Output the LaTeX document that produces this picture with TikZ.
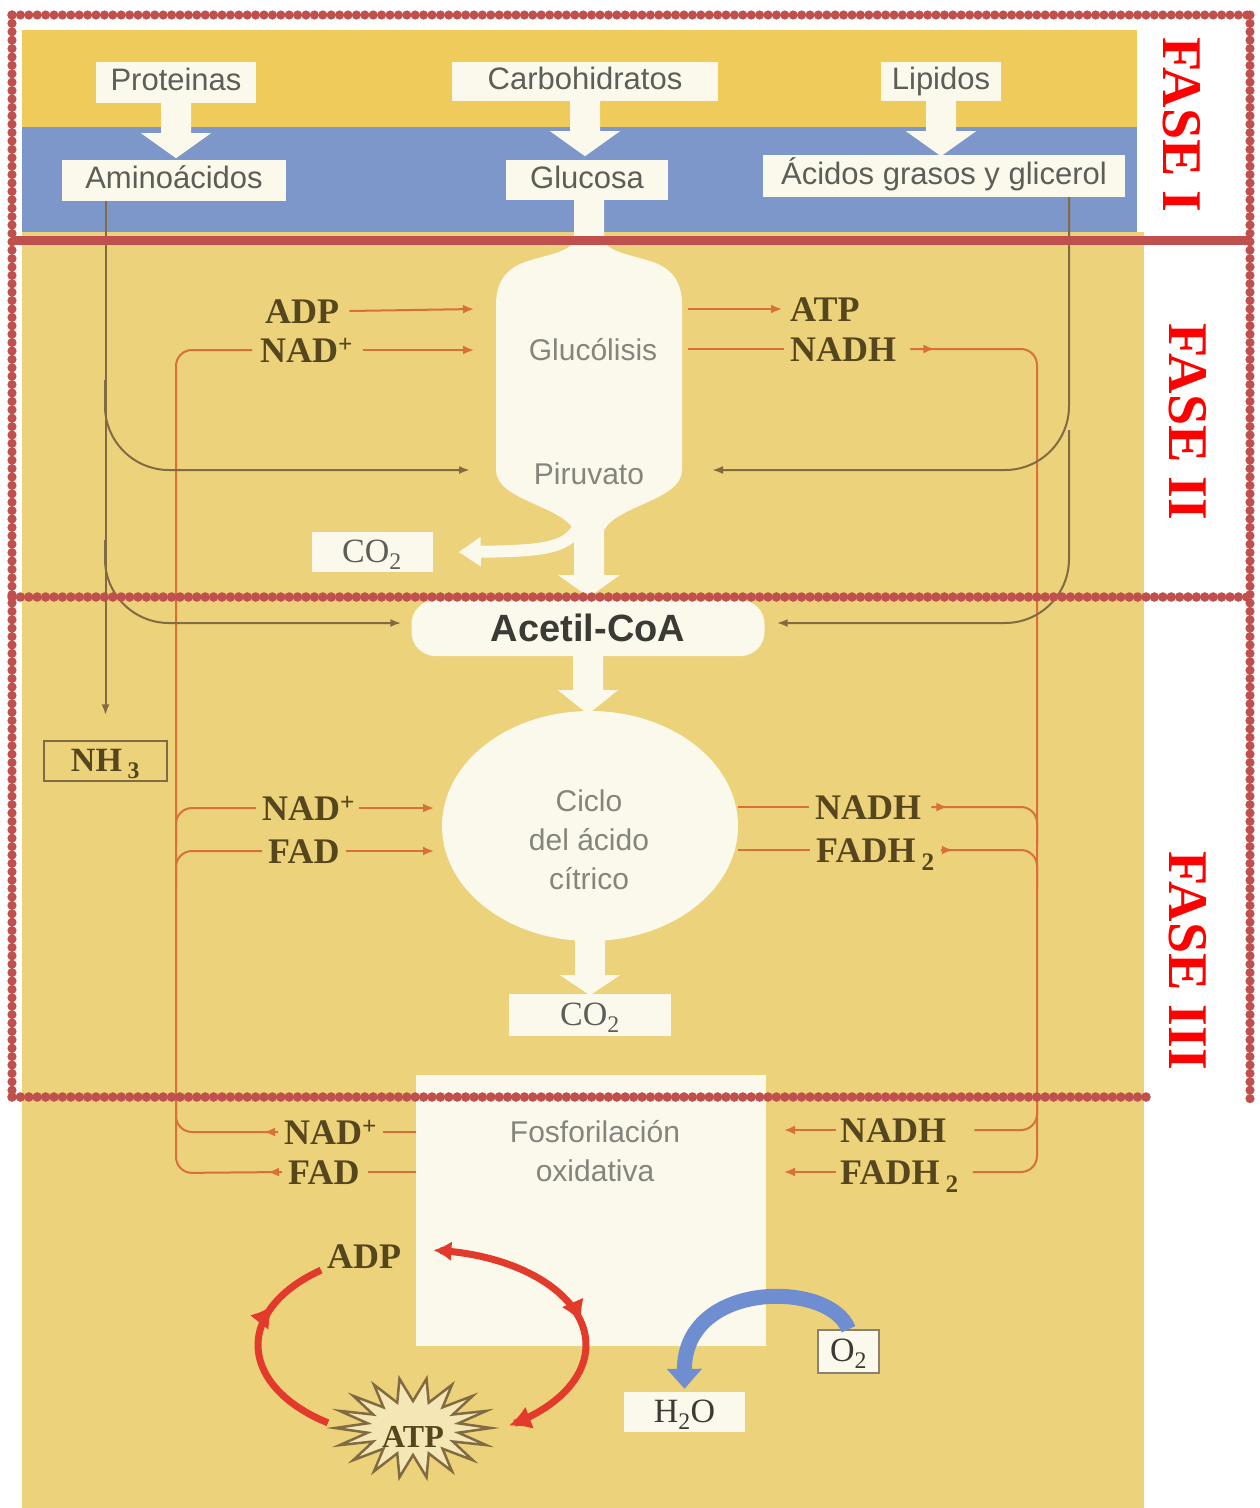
\documentclass[tikz,border=0pt]{standalone}
\usepackage{fontspec}
\setmainfont{Liberation Serif}
\setsansfont{Liberation Sans}
\usetikzlibrary{arrows.meta,decorations.markings,shapes.geometric,calc}
\definecolor{ylw}{HTML}{ECD27A}
\definecolor{ylwtop}{HTML}{EFCB5C}
\definecolor{blu}{HTML}{7D97CA}
\definecolor{wht}{HTML}{FBF9EC}
\definecolor{frm}{HTML}{C0504D}
\definecolor{org}{HTML}{D8703A}
\definecolor{brn}{HTML}{806B42}
\definecolor{olv}{HTML}{55461E}
\definecolor{gtx}{HTML}{5E5E58}
\definecolor{gtl}{HTML}{85857E}
\definecolor{ringred}{HTML}{E23B2B}
\definecolor{oblue}{HTML}{6F8ED2}
\definecolor{dtx}{HTML}{3C3A34}
\tikzset{
 lbl/.style={font=\bfseries\fontsize{36}{40}\selectfont, text=olv, inner sep=0pt, text height=24pt, text depth=0pt, anchor=west},
 sbox/.style={fill=wht, inner sep=0pt, font=\sffamily\fontsize{31}{36}\selectfont, text=gtx, text height=22pt, text depth=6pt},
 ptxt/.style={font=\sffamily\fontsize{30}{39}\selectfont, text=gtl, align=center, inner sep=0pt},
 wshape/.style={fill=wht, draw=none},
 frmdotc/.style={fill=frm},
 oline/.style={draw=org, line width=2pt},
 oarr/.style={oline, -{Latex[length=11pt,width=9pt]}},
 marr/.style={postaction={decorate}, decoration={markings, mark=at position #1 with {\arrow{Latex[length=11pt,width=9pt]}}}},
 bline/.style={draw=brn, line width=2pt},
 barr/.style={bline, -{Latex[length=11pt,width=8pt]}},
 ring/.style={draw=ringred, line width=7pt},
 fase/.style={font=\bfseries\fontsize{56}{60}\selectfont, text=red, rotate=-90, inner sep=0pt},
 sbx/.style={fill=wht, inner sep=0pt, font=\fontsize{34}{38}\selectfont, text=dtx, text height=23pt, text depth=3pt},
}
\begin{document}
\begin{tikzpicture}[x=1pt,y=-1pt]
\useasboundingbox (0,0) rectangle (1260,1508);
\fill[white] (0,0) rectangle (1260,1508);
% backgrounds
\fill[ylwtop] (22,30) rectangle (1137,127);
\fill[blu] (22,127) rectangle (1137,232);
\fill[ylw] (22,232) rectangle (1144,1508);

% top boxes
\node[sbox, minimum width=160, minimum height=41] (prot) at (176,82.5) {Proteinas};
\node[sbox, minimum width=266, minimum height=39] (carb) at (585,81.5) {Carbohidratos};
\node[sbox, minimum width=120, minimum height=39] (lip) at (941,81.5) {Lipidos};

% fat white arrows
\foreach \n in {prot,carb,lip}{
  \fill[wshape] (\n.south) ++(-15,0) -- ++(0,30) -- ++(-20,0) -- ++(35,25) -- ++(35,-25) -- ++(-20,0) -- ++(0,-30) -- cycle;
}

% glycolysis flask
\fill[wshape] (574,200) -- (574,238) .. controls (574,252) and (545,255) .. (525,262)
  .. controls (503,270) and (496,285) .. (496,305) -- (496,470)
  .. controls (496,500) and (560,505) .. (574,530) -- (574,575) -- (558,575) -- (589,597) -- (620,575) -- (604,575) -- (604,530)
  .. controls (618,505) and (682,500) .. (682,470) -- (682,305)
  .. controls (682,285) and (675,270) .. (653,262) .. controls (633,255) and (604,252) .. (604,238) -- (604,200) -- cycle;

\node[sbox, minimum width=224, minimum height=41] (amino) at (174,180.5) {Aminoácidos};
\node[sbox, minimum width=162, minimum height=40] (gluc) at (587,180) {Glucosa};
\node[sbox, minimum width=362, minimum height=42] (acid) at (944,176) {Ácidos grasos y glicerol};

\node[ptxt] (glyt) at (593,350) {Glucólisis};
\node[ptxt] (piru) at (589,474) {Piruvato};

% CO2 box and arrow
\node[sbx, text=gtx, minimum width=121, minimum height=40] (co2a) at (372,552) {CO\textsubscript{2}};
\draw[wht, line width=12pt, -{Triangle[length=22pt,width=28pt]}] (580,522) .. controls (572,548) and (545,551) .. ([xshift=26pt]co2a.east);

% Acetil-CoA
\node[fill=wht, rounded corners=24pt, minimum width=353, minimum height=56, inner sep=0pt,
  font=\sffamily\bfseries\fontsize{38}{40}\selectfont, text=dtx] (acetil) at (588,628) {Acetil-CoA};
\fill[wshape] (acetil.south) ++(-15,-2) -- ++(0,36) -- ++(-15,0) -- ++(30,24) -- ++(30,-24) -- ++(-15,0) -- ++(0,-36) -- cycle;

% Krebs
\node[ellipse, fill=wht, minimum width=296, minimum height=230, inner sep=0pt] (krebs) at (590,826) {};
\node[ptxt] (krebst) at (589,840) {Ciclo\\del ácido\\cítrico};
\fill[wshape] (krebs.south) ++(-15,-8) -- ++(0,42) -- ++(-15,0) -- ++(30,20) -- ++(30,-20) -- ++(-15,0) -- ++(0,-42) -- cycle;
\node[sbx, text=gtx, minimum width=162, minimum height=42] (co2b) at (590,1015) {CO\textsubscript{2}};

% Fosforilacion
\node[fill=wht, minimum width=350, minimum height=271, inner sep=0pt] (fosf) at (591,1210.5) {};
\node[ptxt] (fosft) at (595,1151) {Fosforilación\\oxidativa};

% labels
\node[lbl] (adpA) at (265,311) {ADP};
\node[lbl] (nadA) at (260,350) {NAD\textsuperscript{+}};
\node[lbl] (atpA) at (790,309) {ATP};
\node[lbl] (nadhA) at (790,349) {NADH};
\node[lbl] (nadB) at (262,808) {NAD\textsuperscript{+}};
\node[lbl] (fadB) at (268,851) {FAD};
\node[lbl] (nadhB) at (815,807) {NADH};
\node[lbl] (fadhB) at (816,850) {FADH\,\textsubscript{2}};
\node[lbl] (nadC) at (284,1132) {NAD\textsuperscript{+}};
\node[lbl] (fadC) at (288,1172) {FAD};
\node[lbl] (nadhC) at (840,1130) {NADH};
\node[lbl] (fadhC) at (840,1172) {FADH\,\textsubscript{2}};

% coordinates for free ends
\coordinate (glyL1) at (474,309);
\coordinate (glyL2) at (474,350);
\coordinate (glyR1) at (688,309);
\coordinate (glyR2) at (688,349);
\coordinate (kL1) at (434,808);
\coordinate (kL2) at (434,851);
\coordinate (kR1) at (738,807);
\coordinate (kR2) at (738,850);
\coordinate (fR1) at (784,1130);
\coordinate (fR2) at (784,1172);

% orange connectors: glycolysis
\draw[oarr] ([xshift=10pt]adpA.east) -- (glyL1);
\draw[oarr] ([xshift=10pt]nadA.east) -- (glyL2);
\draw[oarr] (glyR1) -- ([xshift=-8pt]atpA.west);
\draw[oline] (glyR2) -- ([xshift=-6pt]nadhA.west);
% krebs
\draw[oarr] ([xshift=4pt]nadB.east) -- (kL1);
\draw[oarr] ([xshift=6pt]fadB.east) -- (kL2);
\draw[oline] (kR1) -- ([xshift=-6pt]nadhB.west);
\draw[oline] (kR2) -- ([xshift=-6pt]fadhB.west);
% fosforilacion
\draw[oline] ([xshift=6pt]nadC.east) -- (fosf.west |- nadC.center);
\draw[oline] ([xshift=8pt]fadC.east) -- (fosf.west |- fadC.center);
\draw[oarr] ([xshift=-4pt]nadhC.west) -- (fR1);
\draw[oarr] ([xshift=-4pt]fadhC.west) -- (fR2);

% left vertical
\draw[oline, rounded corners=16pt, marr=14pt] ([xshift=-6pt]fadC.west) -- (176,1173) -- (176,350) -- ([xshift=-8pt]nadA.west);
\draw[oline, rounded corners=16pt, marr=14pt] ([xshift=-6pt]nadC.west) -- (176,1132) -- (176,1095);
\draw[oline, rounded corners=16pt] (176,845) -- (176,808) -- ([xshift=-6pt]nadB.west);
\draw[oline, rounded corners=16pt] (176,888) -- (176,851) -- ([xshift=-6pt]fadB.west);
% right vertical
\draw[oline, rounded corners=16pt, marr=24pt] ([xshift=14pt]nadhA.east) -- (1037,349) -- (1037,1172) -- ([xshift=14pt]fadhC.east);
\draw[oline, rounded corners=16pt, marr=16pt] ([xshift=10pt]nadhB.east) -- (1037,807) -- (1037,845);
\draw[oline, rounded corners=16pt, marr=12pt] ([xshift=6pt]fadhB.east) -- (1037,850) -- (1037,888);
\draw[oline, rounded corners=16pt] ([xshift=28pt]nadhC.east) -- (1037,1130) -- (1037,1095);

% NH3
\node[draw=brn, line width=1.5pt, minimum width=123, minimum height=40, inner sep=0pt,
  font=\bfseries\fontsize{34}{38}\selectfont, text=olv, text height=23pt, text depth=3pt] (nh3) at (105.5,761) {NH\,\textsubscript{3}};

% brown connectors
\coordinate (glyB1) at (470,470);
\coordinate (glyB2) at (712,470);
\draw[barr] (amino.south -| nh3.north) -- ([yshift=25pt]nh3.north);
\draw[barr, rounded corners=64pt] (105,380) -- (105,470) -- (glyB1);
\draw[barr, rounded corners=64pt] (105,540) -- (105,623) -- ([xshift=-10pt,yshift=5pt]acetil.west);
\draw[barr, rounded corners=64pt] (acid.south -| 1069,0) -- (1069,470) -- (glyB2);
\draw[barr, rounded corners=64pt] (1069,430) -- (1069,623) -- ([xshift=12pt,yshift=5pt]acetil.east);

% ADP / ATP ring
\draw[ring, {Latex[length=18pt,width=20pt]}-{Latex[length=22pt,width=24pt]},
  postaction={decorate}, decoration={markings, mark=at position 0.55 with {\arrow{Latex[length=22pt,width=24pt]}}}]
  plot[domain=274:418, samples=60] ({422+164*cos(\x)},{1345+95*sin(\x)});
\draw[ring, postaction={decorate}, decoration={markings, mark=at position 0.72 with {\arrow{Latex[length=22pt,width=24pt]}}}]
  plot[domain=125:232, samples=50] ({422+164*cos(\x)},{1345+95*sin(\x)});
\draw[draw=brn, line width=2.5pt, fill=ylw!55!white, line join=miter]
  plot[samples at={0,...,35}, variable=\k] ({413+ifthenelse(mod(\k,2)==0,78,46)*cos(\k*10)},{1428+ifthenelse(mod(\k,2)==0,50,27)*sin(\k*10)}) -- cycle;
\node[font=\bfseries\fontsize{32}{36}\selectfont, text=olv, inner sep=0pt] (atpR) at (413,1437) {ATP};
\node[lbl] (adpR) at (327,1256) {ADP};

% O2 / H2O
\node[sbx, draw=gray!80!brown, line width=1.5pt, minimum width=61, minimum height=43] (o2) at (848.5,1351.5) {O\textsubscript{2}};
\node[sbx, minimum width=121, minimum height=40] (h2o) at (684.5,1412) {H\textsubscript{2}O};
\draw[oblue, line width=15pt, -{Triangle[length=20pt,width=34pt]}] (o2.north) .. controls (830,1280) and (684,1280) .. ([yshift=3pt]h2o.north);

% red dotted frames (explicit dots)
\foreach \x in {12,20.4,...,1251} {
  \fill[frmdotc] (\x,15) circle[radius=4.6pt];
  \fill[frmdotc] (\x,597) circle[radius=4.8pt];
}
\foreach \x in {12,20.4,...,1147} {
  \fill[frmdotc] (\x,1097) circle[radius=4.8pt];
}
\foreach \y in {15,23.4,...,1098} {
  \fill[frmdotc] (12,\y) circle[radius=4.6pt];
}
\foreach \y in {15,23.4,...,1101} {
  \fill[frmdotc] (1250,\y) circle[radius=4.6pt];
}
\draw[frm, line width=9pt] (12,240) -- (1252,240);

% phase labels
\node[fase] (f1) at (1182,125) {FASE I};
\node[fase] (f2) at (1188,422) {FASE II};
\node[fase] (f3) at (1188,961) {FASE III};
\end{tikzpicture}
\end{document}
